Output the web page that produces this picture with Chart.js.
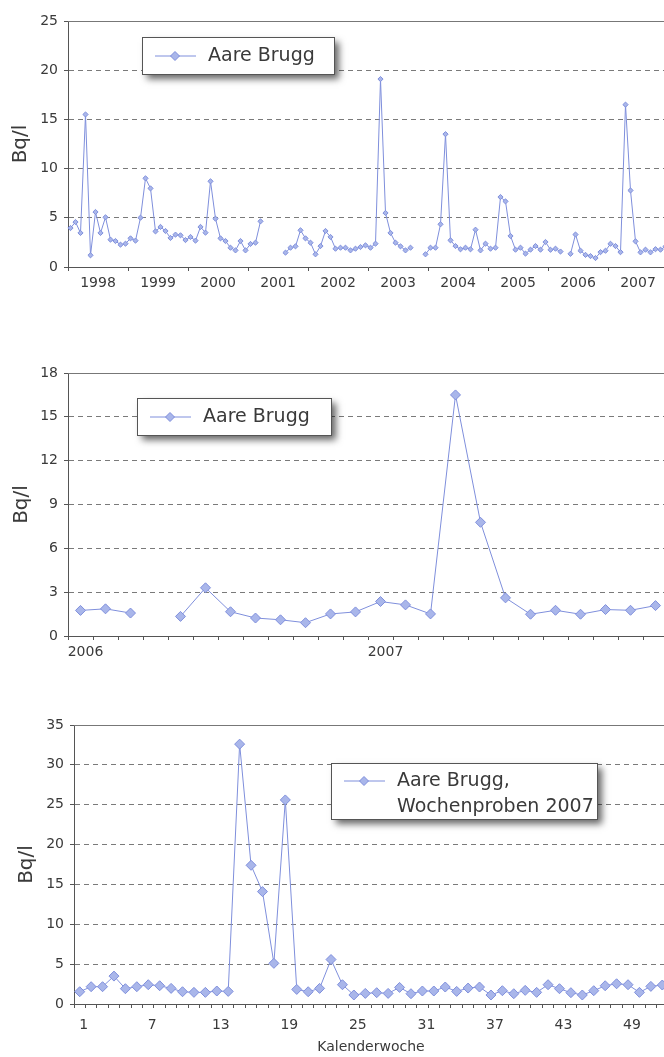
<!DOCTYPE html>
<html lang="de">
<head>
<meta charset="utf-8">
<title>Aare Brugg</title>
<script src="https://cdn.jsdelivr.net/npm/chart.js@4.4.1/dist/chart.umd.min.js"></script>
<style>
  html, body { margin: 0; padding: 0; background: #fff; }
  body { width: 664px; height: 1057px; overflow: hidden; position: relative; }
  canvas { position: absolute; left: 0; }
  #monate { top: 0; }
  #monate0607 { top: 340px; }
  #wochen { top: 690px; }
</style>
</head>
<body>
<canvas id="monate" width="680" height="300"></canvas>
<canvas id="monate0607" width="680" height="340"></canvas>
<canvas id="wochen" width="680" height="367"></canvas>
<script>
// Jahre der Monatsreihe
const jahre = ['1998', '1999', '2000', '2001', '2002', '2003', '2004', '2005', '2006', '2007'];

// Monatsproben 1998-2005 (Bq/l), null = keine Messung
const monatswerte9805 = [
  3.96, 4.57, 3.46, 15.5, 1.19, 5.59, 3.46, 5.05, 2.78, 2.64, 2.27, 2.37,
  2.91, 2.68, 5.01, 9.01, 7.99, 3.62, 4.07, 3.66, 2.95, 3.29, 3.22, 2.74,
  3.05, 2.68, 4.07, 3.49, 8.71, 4.91, 2.91, 2.64, 1.96, 1.69, 2.64, 1.69,
  2.34, 2.47, 4.64, null, null, null, null, 1.46, 1.96, 2.10, 3.73, 2.91,
  2.47, 1.29, 2.13, 3.66, 3.05, 1.86, 1.96, 1.96, 1.69, 1.86, 2.03, 2.20,
  1.96, 2.37, 19.1, 5.49, 3.46, 2.47, 2.10, 1.69, 1.96, null, null, 1.29,
  1.96, 1.96, 4.34, 13.5, 2.71, 2.13, 1.80, 1.96, 1.80, 3.79, 1.69, 2.37,
  1.86, 1.96, 7.11, 6.67, 3.15, 1.76, 1.96, 1.36, 1.76, 2.13, 1.76, 2.54
];

// Monatsproben 2006-2007 (Bq/l)
const monatswerte0607 = [
  1.75, 1.86, 1.57, null, 1.34, 3.30, 1.66, 1.23, 1.11, 0.91, 1.51, 1.65,
  2.36, 2.13, 1.51, 16.5, 7.78, 2.61, 1.49, 1.76, 1.49, 1.81, 1.76, 2.08
];

// Wochenproben 2007 (Bq/l), Kalenderwoche 1-52
const wochenwerte2007 = [
  1.54, 2.17, 2.17, 3.50, 1.92, 2.17, 2.42, 2.29, 1.96, 1.54,
  1.46, 1.46, 1.63, 1.58, 32.6, 17.4, 14.1, 5.10, 25.6, 1.83,
  1.54, 1.96, 5.58, 2.42, 1.13, 1.33, 1.42, 1.33, 2.08, 1.29,
  1.63, 1.63, 2.13, 1.58, 2.00, 2.13, 1.13, 1.67, 1.29, 1.71,
  1.46, 2.42, 1.92, 1.42, 1.13, 1.67, 2.29, 2.54, 2.42, 1.46,
  2.21, 2.38
];

const LINIE = '#7f8fdc';
const PUNKT = '#a9b6ea';
const TEXT = '#3a3a3a';
const ACHSE = '#555';
const TRANSPARENT = 'rgba(0,0,0,0)';

Chart.defaults.font.family = "'DejaVu Sans', 'Liberation Sans', sans-serif";
Chart.defaults.color = TEXT;

// Rautensymbol fuer die Legende
function raute(ctx, x, y, r) {
  ctx.beginPath();
  ctx.moveTo(x, y - r);
  ctx.lineTo(x + r, y);
  ctx.lineTo(x, y + r);
  ctx.lineTo(x - r, y);
  ctx.closePath();
  ctx.fill();
  ctx.stroke();
}

// durchgezogene Linie am oberen Rand der Zeichenflaeche
const rahmenOben = {
  id: 'rahmenOben',
  beforeDatasetsDraw(chart) {
    const ctx = chart.ctx, a = chart.chartArea;
    const y = Math.round(a.top) + 0.5;
    ctx.save();
    ctx.strokeStyle = '#777';
    ctx.lineWidth = 1;
    ctx.beginPath();
    ctx.moveTo(a.left, y);
    ctx.lineTo(a.right, y);
    ctx.stroke();
    ctx.restore();
  }
};

// Legendenkasten mit Schatten, innerhalb des Diagramms
const legendeBox = {
  id: 'legendeBox',
  afterDraw(chart, args, o) {
    const ctx = chart.ctx;
    ctx.save();
    ctx.shadowColor = 'rgba(0,0,0,0.6)';
    ctx.shadowBlur = 7;
    ctx.shadowOffsetX = 5;
    ctx.shadowOffsetY = 5;
    ctx.fillStyle = '#fff';
    ctx.fillRect(o.x, o.y, o.w, o.h);
    ctx.restore();

    ctx.save();
    ctx.strokeStyle = '#555';
    ctx.lineWidth = 1;
    ctx.strokeRect(o.x + 0.5, o.y + 0.5, o.w, o.h);

    // Linienmuster mit Raute
    const ly = o.y + o.zeile1;
    ctx.strokeStyle = LINIE;
    ctx.beginPath();
    ctx.moveTo(o.x + 13, ly);
    ctx.lineTo(o.x + 54, ly);
    ctx.stroke();
    ctx.fillStyle = PUNKT;
    raute(ctx, o.x + 33, ly, 4.5);

    ctx.fillStyle = TEXT;
    ctx.font = "19px 'DejaVu Sans', sans-serif";
    ctx.textBaseline = 'middle';
    o.text.forEach((t, i) => ctx.fillText(t, o.x + 66, ly + i * 26));
    ctx.restore();
  }
};

// y-Achse, gemeinsam fuer alle drei Diagramme
function yAchse(max, schritt, breite, titelAbstand) {
  return {
    min: 0,
    max: max,
    ticks: { stepSize: schritt, padding: 6, color: TEXT, font: { size: 14 } },
    grid: {
      color: c => (c.tick.value === 0 || c.tick.value === max) ? TRANSPARENT : '#7a7a7a',
      tickColor: ACHSE,
      tickLength: 4
    },
    border: { color: ACHSE, dash: [5, 4] },
    title: { display: true, text: 'Bq/l', color: TEXT, font: { size: 20 }, padding: { top: titelAbstand } },
    afterFit: s => { s.width = breite; }
  };
}

// x-Achse mit Kategorien; beschriftung(i) liefert den Text je Kategorie
function xAchse(hoehe, beschriftung, strichBei, verschiebung, abstand) {
  return {
    offset: true,
    grid: {
      offset: true,
      color: TRANSPARENT,
      tickLength: 4,
      tickColor: c => strichBei(c.index) ? ACHSE : TRANSPARENT
    },
    border: { color: ACHSE },
    ticks: {
      autoSkip: false,
      maxRotation: 0,
      minRotation: 0,
      padding: abstand,
      labelOffset: verschiebung,
      color: TEXT,
      font: { size: 14 },
      callback: (v, i) => beschriftung(i)
    },
    afterFit: s => { s.height = hoehe; }
  };
}

function datensatz(werte, radius) {
  return {
    label: 'Aare Brugg',
    data: werte,
    borderColor: LINIE,
    borderWidth: 1,
    pointStyle: 'rectRot',
    pointRadius: radius,
    pointBackgroundColor: PUNKT,
    pointBorderColor: LINIE,
    pointBorderWidth: 1,
    spanGaps: false,
    tension: 0
  };
}

function grundOptionen(oben) {
  return {
    responsive: false,
    animation: false,
    devicePixelRatio: 1,
    layout: { padding: { left: 0, top: oben, right: 12, bottom: 0 } },
    plugins: { legend: { display: false }, tooltip: { enabled: false } }
  };
}

// Diagramm 1: Monatswerte 1998-2007
function monatsChart() {
  const werte = monatswerte9805.concat(monatswerte0607);
  const labels = [];
  jahre.forEach(j => { for (let m = 1; m <= 12; m++) labels.push(j + '-' + m); });

  const opt = grundOptionen(21);
  opt.scales = {
    x: xAchse(33, i => (i % 12 === 6 ? jahre[Math.floor(i / 12)] : ''), i => i % 12 === 0, -2.5, 4),
    y: yAchse(25, 5, 68, 9)
  };
  opt.plugins.legendeBox = { x: 142, y: 37, w: 192, h: 37, zeile1: 19, text: ['Aare Brugg'] };

  new Chart(document.getElementById('monate'), {
    type: 'line',
    data: { labels: labels, datasets: [datensatz(werte, 2.6)] },
    options: opt,
    plugins: [rahmenOben, legendeBox]
  });
}

// Diagramm 2: Monatswerte 2006-2007
function monatsChart0607() {
  const labels = [];
  ['2006', '2007'].forEach(j => { for (let m = 1; m <= 12; m++) labels.push(j + '-' + m); });

  const opt = grundOptionen(33);
  opt.scales = {
    x: xAchse(44, i => (i % 12 === 0 ? labels[i].slice(0, 4) : ''), () => true, 5, 4),
    y: yAchse(18, 3, 68, 10)
  };
  opt.plugins.legendeBox = { x: 137, y: 58, w: 194, h: 37, zeile1: 19, text: ['Aare Brugg'] };

  new Chart(document.getElementById('monate0607'), {
    type: 'line',
    data: { labels: labels, datasets: [datensatz(monatswerte0607, 5)] },
    options: opt,
    plugins: [rahmenOben, legendeBox]
  });
}

// Diagramm 3: Wochenproben 2007
function wochenChart() {
  const wochen = wochenwerte2007.map((w, i) => String(i + 1));

  const opt = grundOptionen(35);
  const x = xAchse(53, i => (i % 6 === 0 ? wochen[i] : ''), () => true, 4, 9);
  x.title = { display: true, text: 'Kalenderwoche', color: TEXT, font: { size: 14 }, padding: { top: 2, bottom: 1 } };
  opt.scales = { x: x, y: yAchse(35, 5, 74, 15) };
  opt.plugins.legendeBox = { x: 331, y: 73, w: 266, h: 56, zeile1: 18, text: ['Aare Brugg,', 'Wochenproben 2007'] };

  const ds = datensatz(wochenwerte2007, 5);
  ds.label = 'Aare Brugg, Wochenproben 2007';
  new Chart(document.getElementById('wochen'), {
    type: 'line',
    data: { labels: wochen, datasets: [ds] },
    options: opt,
    plugins: [rahmenOben, legendeBox]
  });
}

monatsChart();
monatsChart0607();
wochenChart();
</script>
</body>
</html>
